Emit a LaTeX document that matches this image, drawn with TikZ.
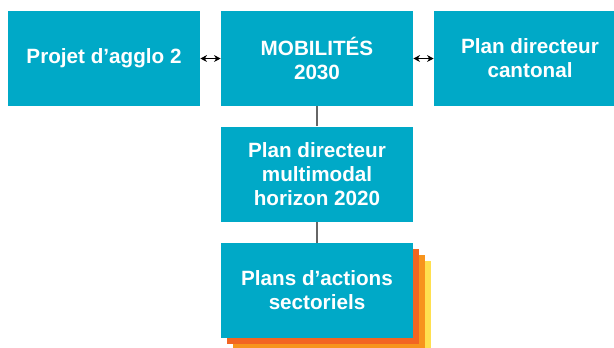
\documentclass[tikz,border=0pt]{standalone}
\usepackage{fontspec}
\setmainfont{Liberation Sans}
\usetikzlibrary{arrows.meta}

\definecolor{bleu}{HTML}{00A9C7}
\definecolor{rouge}{HTML}{F26522}
\definecolor{orange}{HTML}{F7941D}
\definecolor{jaune}{HTML}{FFE04F}
\definecolor{trait}{HTML}{666666}

\tikzset{
	boite/.style={fill=bleu, text=white, font=\bfseries\fontsize{15.5}{18}\selectfont,
		align=center, minimum width=144pt, minimum height=71.25pt, inner sep=0pt},
	feuille/.style={boite, text=black},
	lien/.style={<->, >={Stealth[length=5pt,width=5pt]}, line width=0.7pt, black},
	branche/.style={trait, line width=0.8pt}
}

\begin{document}
\begin{tikzpicture}[x=0.75pt,y=-0.75pt]
		\clip (0,0) rectangle (614,347);
		\fill[white] (0,0) rectangle (614,347);

		% ligne du haut
		\node[boite] at (104,58.5) (agglo) {Projet d’agglo 2};
		\node[boite] at (317,58.5) (mob) {MOBILITÉS\\2030};
		\node[boite] at (530,58.5) (canton) {Plan directeur\\cantonal};
		\draw[lien] (agglo) -- (mob);
		\draw[lien] (mob) -- (canton);

		% plan directeur
		\node[boite] at (317,174) (pdm) {Plan directeur\\multimodal\\horizon 2020};
		\draw[branche] (mob) -- (pdm);

		% plans d'actions (pile)
		\node[feuille, fill=jaune] at (335,308.5) (sect3) {};
		\node[feuille, fill=orange] at (329,302.5) (sect2) {};
		\node[feuille, fill=rouge] at (323,296.5) (sect1) {};
		\node[boite] at (317,290.5) (sect) {Plans d’actions\\sectoriels};
		\draw[branche] (pdm) -- (sect);
	\end{tikzpicture}
\end{document}
